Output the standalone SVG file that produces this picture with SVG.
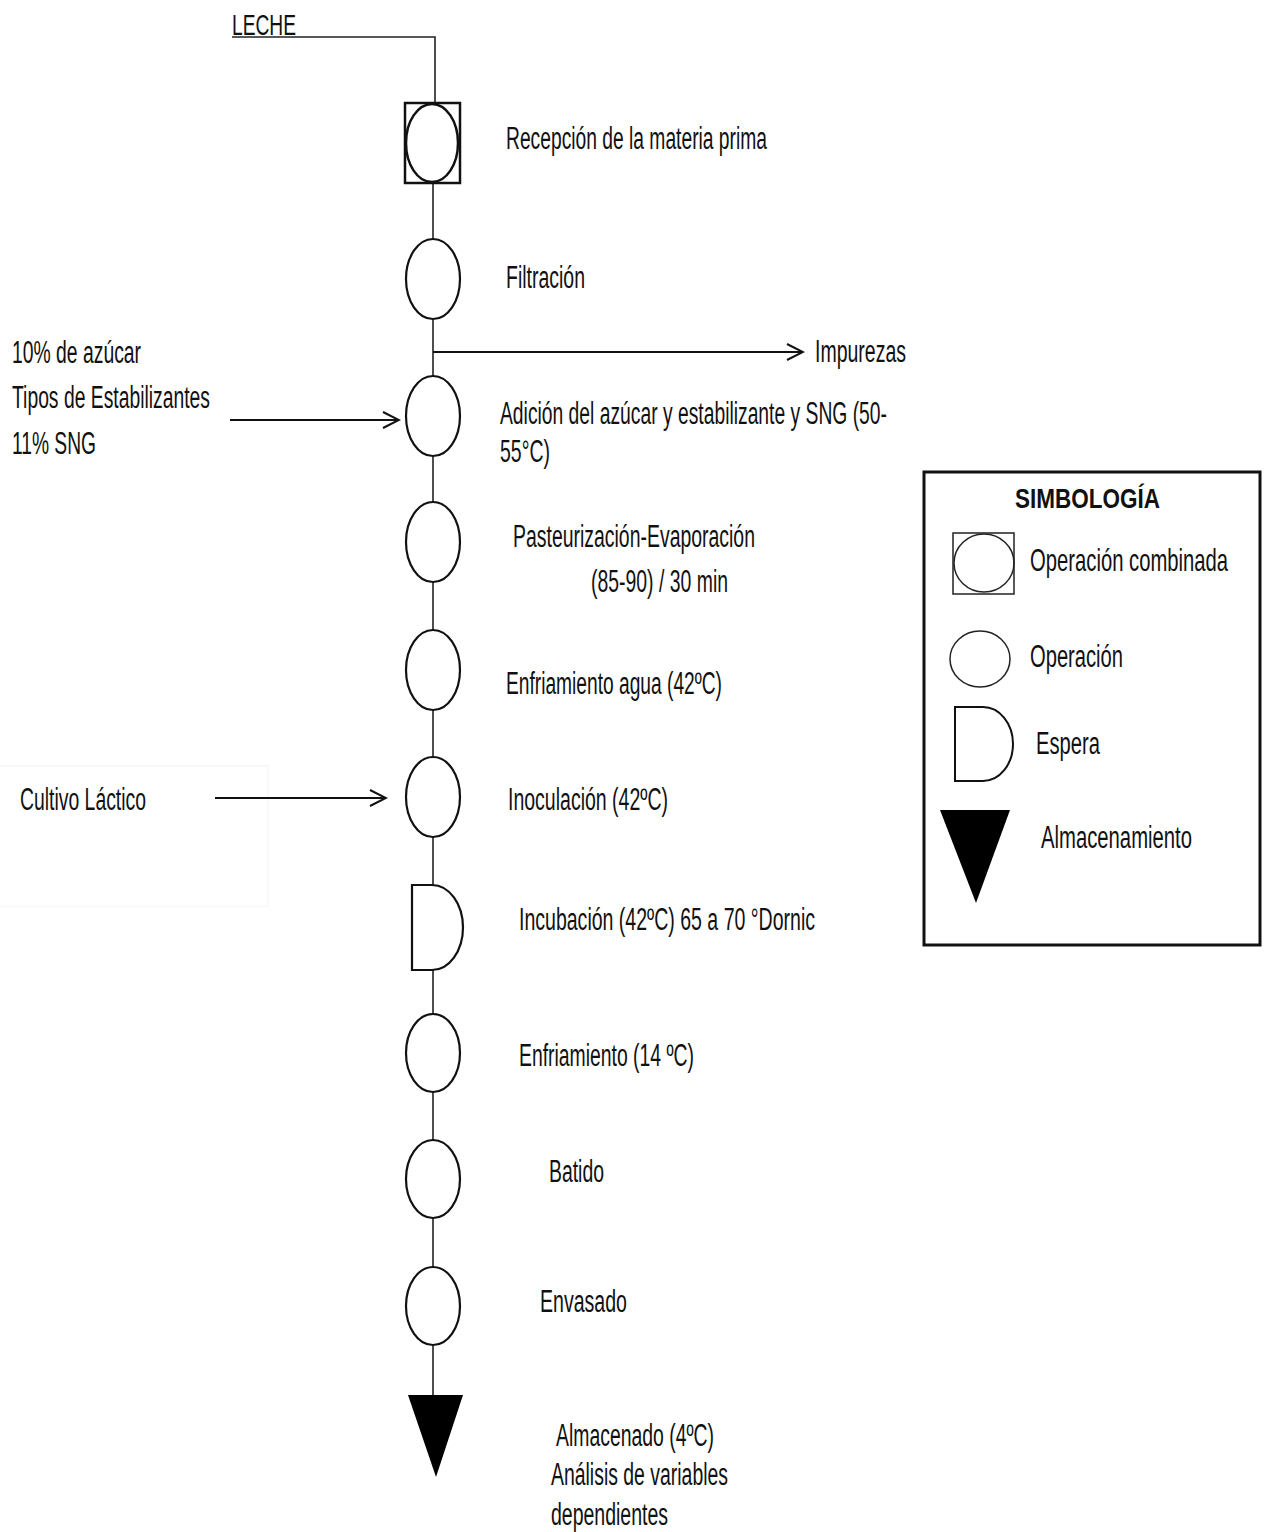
<svg xmlns="http://www.w3.org/2000/svg" width="1269" height="1532" viewBox="0 0 1269 1532">
<style>
text{font-family:"Liberation Sans",Arial,sans-serif;font-size:31px;fill:#111}
.s{fill:#fff;stroke:#111;stroke-width:2.2}
.l{fill:none;stroke:#111;stroke-width:2}
.c{fill:none;stroke:#222;stroke-width:1.6}
.g{fill:none;stroke:#222;stroke-width:1.5}
.b{font-weight:bold}
</style>
<defs>
<marker id="ar" viewBox="0 0 20 20" refX="18" refY="10" markerWidth="20" markerHeight="20" markerUnits="userSpaceOnUse" orient="auto">
<path d="M2,2 L18,10 L2,18" fill="none" stroke="#111" stroke-width="2"/>
</marker>
</defs>
<rect width="1269" height="1532" fill="#fff"/>
<rect x="-2" y="766" width="270" height="140" fill="none" stroke="#f4f4f4" stroke-width="1"/>
<g id="connectors">
<polyline class="c" points="232,37 435,37 435,103"/>
<line class="c" x1="433" y1="183" x2="433" y2="1396"/>
<line class="l" x1="433" y1="352" x2="803" y2="352" marker-end="url(#ar)"/>
<line class="l" x1="230" y1="420" x2="399" y2="420" marker-end="url(#ar)"/>
<line class="l" x1="215" y1="798" x2="386" y2="798" marker-end="url(#ar)"/>
</g>
<g id="leche"><text x="232" y="35" textLength="64" lengthAdjust="spacingAndGlyphs" style="font-size:30px">LECHE</text></g>
<g id="n1"><rect x="405" y="103" width="55" height="80" class="s" style="stroke-width:2.5"/><ellipse cx="432" cy="143" rx="26" ry="39" class="s" style="stroke-width:2.5"/>
<text x="506" y="149" textLength="261" lengthAdjust="spacingAndGlyphs">Recepción de la materia prima</text></g>
<g id="n2"><ellipse cx="433" cy="279" rx="27" ry="40" class="s"/>
<text x="506" y="288" textLength="79" lengthAdjust="spacingAndGlyphs">Filtración</text></g>
<g id="impurezas"><text x="815" y="362" textLength="91" lengthAdjust="spacingAndGlyphs">Impurezas</text></g>
<g id="insumos">
<text x="12" y="363" textLength="129" lengthAdjust="spacingAndGlyphs">10% de azúcar</text>
<text x="12" y="408" textLength="198" lengthAdjust="spacingAndGlyphs">Tipos de Estabilizantes</text>
<text x="12" y="454" textLength="84" lengthAdjust="spacingAndGlyphs">11% SNG</text>
</g>
<g id="n3"><ellipse cx="433" cy="416" rx="27" ry="40" class="s"/>
<text x="500" y="424" textLength="387" lengthAdjust="spacingAndGlyphs">Adición del azúcar y estabilizante y SNG (50-</text>
<text x="500" y="462" textLength="50" lengthAdjust="spacingAndGlyphs">55°C)</text></g>
<g id="n4"><ellipse cx="433" cy="542" rx="27" ry="40" class="s"/>
<text x="513" y="547" textLength="242" lengthAdjust="spacingAndGlyphs">Pasteurización-Evaporación</text>
<text x="591" y="592" textLength="137" lengthAdjust="spacingAndGlyphs">(85-90) / 30 min</text></g>
<g id="n5"><ellipse cx="433" cy="670" rx="27" ry="40" class="s"/>
<text x="506" y="694" textLength="216" lengthAdjust="spacingAndGlyphs">Enfriamiento agua (42ºC)</text></g>
<g id="cultivo"><text x="20" y="810" textLength="126" lengthAdjust="spacingAndGlyphs">Cultivo Láctico</text></g>
<g id="n6"><ellipse cx="433" cy="797" rx="27" ry="40" class="s"/>
<text x="508" y="810" textLength="160" lengthAdjust="spacingAndGlyphs">Inoculación (42ºC)</text></g>
<g id="n7"><path d="M412,885 H432 A31,42.5 0 0 1 432,970 H412 Z" class="s"/>
<text x="519" y="930" textLength="296" lengthAdjust="spacingAndGlyphs">Incubación (42ºC) 65 a 70 °Dornic</text></g>
<g id="n8"><ellipse cx="433" cy="1053" rx="27" ry="39" class="s"/>
<text x="519" y="1066" textLength="175" lengthAdjust="spacingAndGlyphs">Enfriamiento (14 ºC)</text></g>
<g id="n9"><ellipse cx="433" cy="1179" rx="27" ry="39" class="s"/>
<text x="549" y="1182" textLength="55" lengthAdjust="spacingAndGlyphs">Batido</text></g>
<g id="n10"><ellipse cx="433" cy="1306" rx="27" ry="39" class="s"/>
<text x="540" y="1312" textLength="87" lengthAdjust="spacingAndGlyphs">Envasado</text></g>
<g id="n11"><polygon points="408,1395 463,1395 436,1477" fill="#000"/>
<text x="556" y="1446" textLength="158" lengthAdjust="spacingAndGlyphs">Almacenado (4ºC)</text>
<text x="551" y="1485" textLength="177" lengthAdjust="spacingAndGlyphs">Análisis de variables</text>
<text x="551" y="1525" textLength="117" lengthAdjust="spacingAndGlyphs">dependientes</text></g>
<g id="legend">
<rect x="924" y="472" width="336" height="473" fill="#fff" stroke="#111" stroke-width="3"/>
<text class="b" x="1015" y="508" textLength="145" lengthAdjust="spacingAndGlyphs" style="font-size:27px">SIMBOLOGÍA</text>
<rect x="953" y="533" width="61" height="61" class="g"/>
<ellipse cx="984" cy="563" rx="30" ry="29" class="g"/>
<text transform="translate(1030,571) scale(0.7,1)" x="0" y="0" textLength="283" lengthAdjust="spacingAndGlyphs">Operación combinada</text>
<ellipse cx="980" cy="659" rx="30" ry="28" class="g"/>
<text x="1030" y="667" textLength="93" lengthAdjust="spacingAndGlyphs">Operación</text>
<path d="M955,707 H983 A30,37 0 0 1 983,781 H955 Z" class="l"/>
<text x="1036" y="754" textLength="64" lengthAdjust="spacingAndGlyphs">Espera</text>
<polygon points="940,810 1010,810 976,903" fill="#000"/>
<text x="1041" y="848" textLength="151" lengthAdjust="spacingAndGlyphs">Almacenamiento</text>
</g>
</svg>
